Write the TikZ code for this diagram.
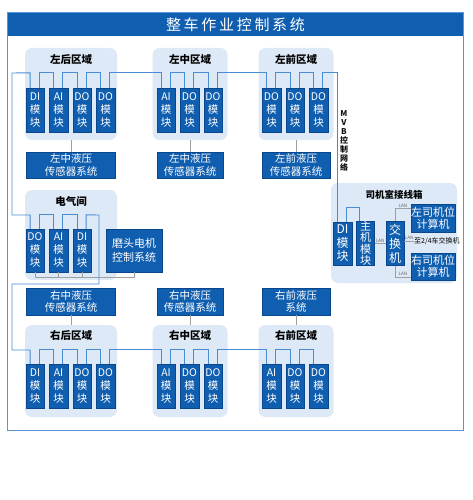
\documentclass[tikz,border=0pt]{standalone}
\usepackage{fontspec}
\setmainfont{Noto Sans CJK SC}
\usetikzlibrary{positioning}
\definecolor{modblue}{RGB}{16,94,176}
\definecolor{modedge}{RGB}{10,70,140}
\definecolor{zonefill}{RGB}{221,233,246}
\definecolor{busblue}{RGB}{72,140,210}
\definecolor{framec}{RGB}{90,150,215}
\tikzset{
    zonebox/.style = {rectangle, rounded corners=7pt, fill=zonefill, minimum height=92pt, inner sep=0pt},
    mod/.style = {rectangle, fill=modblue, draw=modedge, line width=0.4pt, text=white, minimum width=18.5pt, minimum height=44pt, inner sep=0pt, align=center, font=\fontsize{10.5}{13}\selectfont},
    sensor/.style = {rectangle, fill=modblue, draw=modedge, line width=0.4pt, text=white, minimum height=26pt, inner sep=0pt, align=center, font=\fontsize{10.5}{12.5}\selectfont},
    pcbox/.style = {sensor, minimum width=42pt, minimum height=28pt, font=\fontsize{11}{12}\selectfont},
    zlabel/.style = {inner sep=0pt, font=\fontsize{10.5}{12}\selectfont\bfseries},
    titlebar/.style = {rectangle, fill=modblue, text=white, minimum width=455pt, minimum height=23pt, inner sep=0pt, font=\fontsize{15}{16}\selectfont\addfontfeature{LetterSpace=18}},
    bus/.style = {draw=busblue, line width=0.9pt},
    gline/.style = {draw=gray!75, line width=0.8pt},
    lan/.style = {inner sep=0pt, text=gray!80!black, font=\fontsize{4.5}{5}\selectfont},
    frame/.style = {draw=framec, line width=0.9pt}
}
\begin{document}
\begin{tikzpicture}[x=1pt,y=-1pt]
\fill[white] (0,0) rectangle (473,500);
\useasboundingbox (0,0) rectangle (473,500);
%
\node[titlebar] at (235.5,24.5) (title) {整车作业控制系统};
\coordinate (fr) at (463,430);
\draw[frame] (title.north west) rectangle (fr);
%
\node[zonebox, minimum width=92pt] at (71,94) (lb) {};
\node[zonebox, minimum width=75pt] at (190,94) (lm) {};
\node[zonebox, minimum width=75pt] at (296,94) (lf) {};
\node[zonebox, minimum width=92pt, minimum height=90pt] at (71,235) (eq) {};
\node[zonebox, minimum width=126pt, minimum height=100pt] at (394,233) (cab) {};
\node[zonebox, minimum width=92pt] at (71,371) (rb) {};
\node[zonebox, minimum width=75pt] at (190,371) (rm) {};
\node[zonebox, minimum width=75pt] at (296,371) (rf) {};
%
\node[zlabel] at (71,60) (lbt) {左后区域};
\node[zlabel] at (190,60) (lmt) {左中区域};
\node[zlabel] at (296,60) (lft) {左前区域};
\node[zlabel] at (71,201) (eqt) {电气间};
\node[zlabel, font=\fontsize{9.5}{11}\selectfont\bfseries] at (394,195) (cabt) {司机室接线箱};
\node[zlabel] at (71,336) (rbt) {右后区域};
\node[zlabel] at (190,336) (rmt) {右中区域};
\node[zlabel] at (296,336) (rft) {右前区域};
%
\node[mod] at (35,110) (lb1) {DI\\模\\块};
\node[mod] at (58.5,110) (lb2) {AI\\模\\块};
\node[mod] at (82,110) (lb3) {DO\\模\\块};
\node[mod] at (105.5,110) (lb4) {DO\\模\\块};
\node[mod] at (166,110) (lm1) {AI\\模\\块};
\node[mod] at (189.5,110) (lm2) {DO\\模\\块};
\node[mod] at (213,110) (lm3) {DO\\模\\块};
\node[mod] at (271.5,110) (lf1) {DO\\模\\块};
\node[mod] at (295,110) (lf2) {DO\\模\\块};
\node[mod] at (318.5,110) (lf3) {DO\\模\\块};
%
\node[sensor, minimum width=89pt] at (71,165) (ls1) {左中液压\\传感器系统};
\node[sensor, minimum width=66pt] at (190,165) (ls2) {左中液压\\传感器系统};
\node[sensor, minimum width=68pt] at (296,165) (ls3) {左前液压\\传感器系统};
%
\node[mod, minimum height=43pt] at (35,250.5) (e1) {DO\\模\\块};
\node[mod, minimum height=43pt] at (58.5,250.5) (e2) {AI\\模\\块};
\node[mod, minimum height=43pt] at (82,250.5) (e3) {DI\\模\\块};
\node[sensor, minimum width=56pt, minimum height=43pt, font=\fontsize{11}{14}\selectfont] at (134,250.5) (mt) {磨头电机\\控制系统};
%
\node[sensor, minimum width=89pt, minimum height=27pt] at (71,301.5) (rs1) {右中液压\\传感器系统};
\node[sensor, minimum width=66pt, minimum height=27pt] at (190,301.5) (rs2) {右中液压\\传感器系统};
\node[sensor, minimum width=68pt, minimum height=27pt] at (296,301.5) (rs3) {右前液压\\系统};
%
\node[mod] at (35,386) (rb1) {DI\\模\\块};
\node[mod] at (58.5,386) (rb2) {AI\\模\\块};
\node[mod] at (82,386) (rb3) {DO\\模\\块};
\node[mod] at (105.5,386) (rb4) {DO\\模\\块};
\node[mod] at (166,386) (rm1) {AI\\模\\块};
\node[mod] at (189.5,386) (rm2) {DO\\模\\块};
\node[mod] at (213,386) (rm3) {DO\\模\\块};
\node[mod] at (271.5,386) (rf1) {AI\\模\\块};
\node[mod] at (295,386) (rf2) {DO\\模\\块};
\node[mod] at (318.5,386) (rf3) {DO\\模\\块};
%
\node[mod, minimum width=19pt, minimum height=43pt, font=\fontsize{12}{13.5}\selectfont] at (342.5,243.5) (cdi) {DI\\模\\块};
\node[mod, minimum width=18pt, minimum height=43pt, font=\fontsize{11}{11.3}\selectfont] at (365.5,243.5) (host) {主\\机\\模\\块};
\node[mod, minimum width=18pt, font=\fontsize{12}{14}\selectfont] at (395,243.5) (sw) {交\\换\\机};
\node[pcbox] at (433,218) (lpc) {左司机位\\计算机};
\node[pcbox, minimum height=27pt] at (433,266.5) (rpc) {右司机位\\计算机};
\node[inner sep=0pt, anchor=west, font=\fontsize{7}{8}\selectfont] at (414,241) (to24) {至2/4车交换机};
\node[inner sep=0pt, align=center, text=gray!15!black, font=\fontsize{8}{9}\selectfont\bfseries] at (344,141) (mvb) {M\\V\\B\\控\\制\\网\\络};
%
\draw[gline] (lb) -- (ls1);
\draw[gline] (lm) -- (ls2);
\draw[gline] (lf) -- (ls3);
\draw[gline] (rs1) -- (rb);
\draw[gline] (rs2) -- (rm);
\draw[gline] (rs3) -- (rf);
\draw[gline] (e1.south) -- ++(0,5) -| (mt.south);
\draw[gline] (e2.south) -- ++(0,5);
\draw[gline] (e3.south) -- ++(0,5);
%
\draw[gline] (host) -- node[lan, above=1pt] {LAN} (sw);
\draw[gline] (sw.north) |- ([yshift=-5pt]lpc.north west) node[lan, pos=0.75, above=1pt] {LAN};
\draw[gline] (sw.south) |- ([yshift=3pt]rpc.south west) node[lan, pos=0.75, above=1pt] {LAN};
\draw[gline] (sw.east |- to24.west) -- node[lan, above=1pt] {LAN} (to24.west);
%
\draw[bus] ([xshift=4.5pt]lb1.north west) -- ++(0,-15) -- (12,73) -- (12,215) -| ([xshift=4.5pt]e1.north west);
\draw[bus] ([xshift=13.5pt]lb1.north west) -- ++(0,-15) -| ([xshift=4.5pt]lb2.north west);
\draw[bus] ([xshift=13.5pt]lb2.north west) -- ++(0,-15) -| ([xshift=4.5pt]lb3.north west);
\draw[bus] ([xshift=13.5pt]lb3.north west) -- ++(0,-15) -| ([xshift=4.5pt]lb4.north west);
\draw[bus] ([xshift=13.5pt]lb4.north west) -- ++(0,-15) -| ([xshift=4.5pt]lm1.north west);
\draw[bus] ([xshift=13.5pt]lm1.north west) -- ++(0,-15) -| ([xshift=4.5pt]lm2.north west);
\draw[bus] ([xshift=13.5pt]lm2.north west) -- ++(0,-15) -| ([xshift=4.5pt]lm3.north west);
\draw[bus] ([xshift=13.5pt]lm3.north west) -- ++(0,-15) -| ([xshift=4.5pt]lf1.north west);
\draw[bus] ([xshift=13.5pt]lf1.north west) -- ++(0,-15) -| ([xshift=4.5pt]lf2.north west);
\draw[bus] ([xshift=13.5pt]lf2.north west) -- ++(0,-15) -| ([xshift=4.5pt]lf3.north west);
\draw[bus] ([xshift=13.5pt]lf3.north west) -- ++(0,-15) -| ([xshift=4.5pt]cdi.north west); % MVB
\draw[bus] ([xshift=13.5pt]cdi.north west) -- ++(0,-14) -| ([xshift=3pt]host.north west);
%
\draw[bus] ([xshift=13.5pt]e1.north west) -- ++(0,-14) -| ([xshift=4.5pt]e2.north west);
\draw[bus] ([xshift=13.5pt]e2.north west) -- ++(0,-14) -| ([xshift=4.5pt]e3.north west);
\draw[bus] ([xshift=13.5pt]e3.north west) -- ++(0,-14) -- (99,215) -- (99,284) -- (12,284) -- (12,350) -| ([xshift=4.5pt]rb1.north west);
%
\draw[bus] ([xshift=13.5pt]rb1.north west) -- ++(0,-14) -| ([xshift=4.5pt]rb2.north west);
\draw[bus] ([xshift=13.5pt]rb2.north west) -- ++(0,-14) -| ([xshift=4.5pt]rb3.north west);
\draw[bus] ([xshift=13.5pt]rb3.north west) -- ++(0,-14) -| ([xshift=4.5pt]rb4.north west);
\draw[bus] ([xshift=13.5pt]rb4.north west) -- ++(0,-14) -| ([xshift=4.5pt]rm1.north west);
\draw[bus] ([xshift=13.5pt]rm1.north west) -- ++(0,-14) -| ([xshift=4.5pt]rm2.north west);
\draw[bus] ([xshift=13.5pt]rm2.north west) -- ++(0,-14) -| ([xshift=4.5pt]rm3.north west);
\draw[bus] ([xshift=13.5pt]rm3.north west) -- ++(0,-14) -| ([xshift=4.5pt]rf1.north west);
\draw[bus] ([xshift=13.5pt]rf1.north west) -- ++(0,-14) -| ([xshift=4.5pt]rf2.north west);
\draw[bus] ([xshift=13.5pt]rf2.north west) -- ++(0,-14) -| ([xshift=4.5pt]rf3.north west);
\end{tikzpicture}
\end{document}
